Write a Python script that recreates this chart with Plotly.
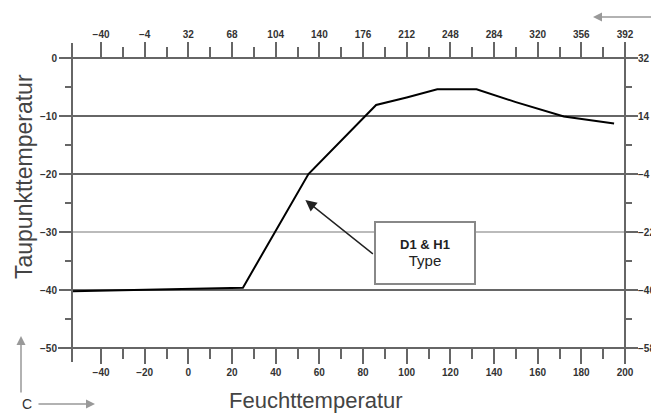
import plotly.graph_objects as go

# Data
feucht_c = [-53, 25, 55, 86, 100, 114, 132, 150, 172, 185, 195]
taupunkt_c = [-40.2, -39.6, -20, -8.1, -6.8, -5.4, -5.4, -7.6, -10.1, -10.8, -11.3]

x_major = [-40, -20, 0, 20, 40, 60, 80, 100, 120, 140, 160, 180, 200]
x_minor = [-30, -10, 10, 30, 50, 70, 90, 110, 130, 150, 170, 190]
f_major = [-40, -4, 32, 68, 104, 140, 176, 212, 248, 284, 320, 356, 392]
f_minor = [-22, 14, 50, 86, 122, 158, 194, 230, 266, 302, 338, 374]
y_major = [0, -10, -20, -30, -40, -50]
y_minor = [-5, -15, -25, -35, -45]
yf_major = [32, 14, -4, -22, -40, -58]
yf_minor = [23, 5, -13, -31, -49]
grid_vals = [-10, -20, -30, -40]
grid_cols = ["#666", "#666", "#bbb", "#666"]

XMIN, XMAX = -53.3, 200
YMIN, YMAX = -50, 0
c2f = lambda c: c * 1.8 + 32

AX = "#666"
TF = dict(family="Liberation Sans, Arial", size=10, color="#333", weight="bold")

fig = go.Figure()
fig.add_trace(go.Scatter(x=feucht_c, y=taupunkt_c, mode="lines",
                         line=dict(color="black", width=2), showlegend=False))
# invisible trace for secondary axes
fig.add_trace(go.Scatter(x=[c2f(XMIN)], y=[c2f(YMIN)], xaxis="x2", yaxis="y2",
                         mode="markers", marker=dict(opacity=0), showlegend=False,
                         hoverinfo="skip"))

common = dict(showgrid=False, zeroline=False, showline=False, ticks="outside",
              tickcolor=AX, tickwidth=2, tickfont=TF, tickmode="array",
              automargin=False)

# page body has an 8px default margin; compensate
OFF = 8
fig.update_layout(
    width=659 - OFF, height=413 - OFF,
    margin=dict(l=72 - OFF, r=34, t=58 - OFF, b=65),
    paper_bgcolor="white", plot_bgcolor="white",
    xaxis=dict(range=[XMIN, XMAX], tickvals=x_major, ticklen=15,
               minor=dict(tickvals=x_minor, ticklen=10, tickcolor=AX, tickwidth=2, ticks="outside"),
               **common),
    xaxis2=dict(range=[c2f(XMIN), c2f(XMAX)], overlaying="x", side="top", anchor="y",
                tickvals=f_major, ticklen=15,
                minor=dict(tickvals=f_minor, ticklen=10, tickcolor=AX, tickwidth=2, ticks="outside"),
                **common),
    yaxis=dict(range=[YMIN, YMAX], tickvals=y_major, ticklen=12,
               minor=dict(tickvals=y_minor, ticklen=6, tickcolor=AX, tickwidth=2, ticks="outside"),
               **common),
    yaxis2=dict(range=[c2f(YMIN), c2f(YMAX)], overlaying="y", side="right", anchor="x",
                tickvals=yf_major, ticklen=12, ticklabelstandoff=-2,
                minor=dict(tickvals=yf_minor, ticklen=6, tickcolor=AX, tickwidth=2, ticks="outside"),
                **common),
)

# gridlines
for v, c in zip(grid_vals, grid_cols):
    fig.add_shape(type="line", xref="paper", yref="y", x0=0, x1=1, y0=v, y1=v,
                  line=dict(color=c, width=2), layer="below")

# frame lines extending beyond corners (paper coordinates, relative to plot area)
W, H = 553, 290
def px(x): return (x - 72) / W
def py(y): return (348 - y) / H
frame = [(72, 43, 72, 362), (625, 43, 625, 362), (65, 58, 632, 58), (58, 348, 632, 348)]
for x0, y0, x1, y1 in frame:
    fig.add_shape(type="line", xref="paper", yref="paper",
                  x0=px(x0), y0=py(y0), x1=px(x1), y1=py(y1),
                  line=dict(color=AX, width=2))

# titles
fig.add_annotation(text="Taupunkttemperatur", xref="paper", yref="paper",
                   x=px(10), y=py(177), textangle=-90, showarrow=False,
                   xanchor="left", yanchor="middle", borderpad=0,
                   font=dict(family="Liberation Sans, Arial", size=23, color="#444"))
fig.add_annotation(text="Feuchttemperatur", xref="paper", yref="paper",
                   x=px(316), y=py(414), showarrow=False,
                   xanchor="center", yanchor="bottom", borderpad=0,
                   font=dict(family="Liberation Sans, Arial", size=22, color="#444"))

# annotation box and arrow
fig.add_annotation(text="<b>D1 & H1</b><br><span style='font-size:15px'>Type</span>",
                   x=108.6, y=-33.6, showarrow=False,
                   font=dict(family="Liberation Sans, Arial", size=13, color="#222"),
                   bgcolor="white", bordercolor="#888", borderwidth=2, borderpad=4,
                   width=90, height=52)
fig.add_annotation(text="", x=53.6, y=-24.5, ax=69, ay=55, showarrow=True,
                   arrowhead=2, arrowsize=1.6, arrowwidth=1.4, arrowcolor="#222")

# small unit arrows
fig.add_annotation(text="", xref="paper", yref="paper",
                   x=px(593), y=py(17), ax=62, ay=0, showarrow=True,
                   arrowhead=2, arrowsize=1.2, arrowwidth=1.5, arrowcolor="#999")
fig.add_annotation(text="", xref="paper", yref="paper",
                   x=px(95), y=py(404), ax=-58, ay=0, showarrow=True,
                   arrowhead=2, arrowsize=1.2, arrowwidth=1.5, arrowcolor="#999")
fig.add_annotation(text="", xref="paper", yref="paper",
                   x=px(21), y=py(336), ax=0, ay=58, showarrow=True,
                   arrowhead=2, arrowsize=1.2, arrowwidth=1.5, arrowcolor="#999")
fig.add_annotation(text="C", xref="paper", yref="paper", x=px(27), y=py(404),
                   xanchor="center", yanchor="middle", showarrow=False,
                   font=dict(family="Liberation Sans, Arial", size=14, color="#333"))

fig.write_html("out.html")
